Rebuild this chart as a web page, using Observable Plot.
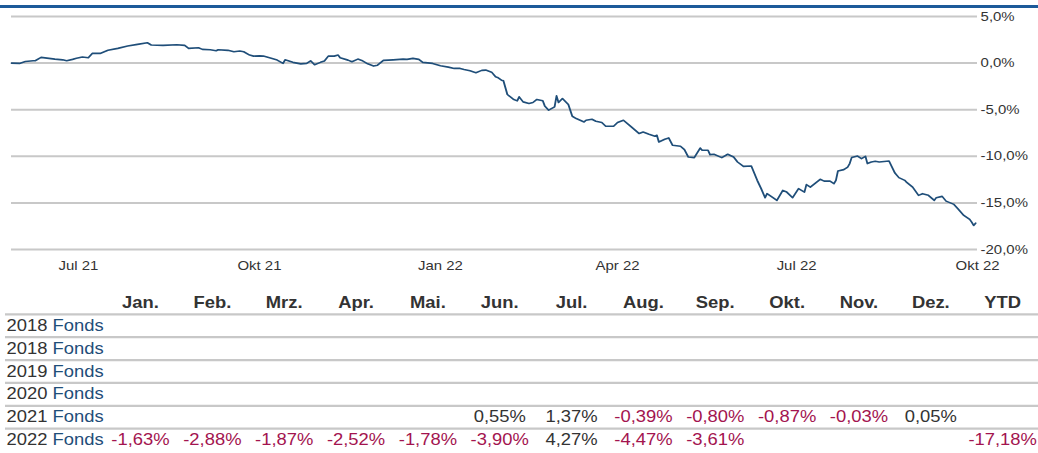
<!DOCTYPE html>
<html><head><meta charset="utf-8">
<script src="https://cdn.jsdelivr.net/npm/d3@7"></script>
<script src="https://cdn.jsdelivr.net/npm/@observablehq/plot@0.6"></script>
<style>
body{margin:0;background:#fff;width:1038px;height:453px;overflow:hidden;position:relative;font-family:"Liberation Sans",Arial,sans-serif;}
#bar{position:absolute;left:0;top:5px;width:1038px;height:3px;background:#1c5a99;}
#chart,#table{position:absolute;left:0;}
#chart{top:0}
#table{top:282px}
svg{display:block;overflow:visible}
</style></head><body>
<div id="chart"></div><div id="table"></div><div id="bar"></div>
<script>
// ---- performance line (cumulative %) ----
const perfDates = [
"2021-05-28","2021-06-01","2021-06-04","2021-06-08","2021-06-09","2021-06-12","2021-06-16","2021-06-19","2021-06-23","2021-06-25",
"2021-06-28","2021-06-30","2021-07-03","2021-07-06","2021-07-08","2021-07-12","2021-07-16","2021-07-21","2021-07-26","2021-07-31",
"2021-08-05","2021-08-07","2021-08-13","2021-08-20","2021-08-24","2021-08-26","2021-08-31","2021-09-02","2021-09-06","2021-09-09",
"2021-09-10","2021-09-15","2021-09-18","2021-09-21","2021-09-23","2021-09-26","2021-09-28","2021-10-01","2021-10-03","2021-10-07",
"2021-10-10","2021-10-13","2021-10-14","2021-10-18","2021-10-22","2021-10-25","2021-10-27","2021-10-29","2021-11-01","2021-11-03",
"2021-11-05","2021-11-08","2021-11-10","2021-11-11","2021-11-15","2021-11-17","2021-11-20","2021-11-22","2021-11-25","2021-11-28",
"2021-11-30","2021-12-03","2021-12-08","2021-12-13","2021-12-15","2021-12-18","2021-12-21","2021-12-23","2021-12-28","2022-01-01",
"2022-01-05","2022-01-08","2022-01-11","2022-01-13","2022-01-16","2022-01-19","2022-01-22","2022-01-24","2022-01-27","2022-01-29",
"2022-01-30","2022-02-01","2022-02-02","2022-02-04","2022-02-07","2022-02-09","2022-02-10","2022-02-12","2022-02-15","2022-02-17",
"2022-02-19","2022-02-22","2022-02-23","2022-02-25","2022-02-28","2022-03-01","2022-03-02","2022-03-04","2022-03-07","2022-03-09",
"2022-03-11","2022-03-15","2022-03-16","2022-03-19","2022-03-21","2022-03-24","2022-03-26","2022-03-30","2022-04-01","2022-04-04",
"2022-04-08","2022-04-12","2022-04-14","2022-04-17","2022-04-20","2022-04-21","2022-04-22","2022-04-25","2022-04-27","2022-04-29",
"2022-05-03","2022-05-05","2022-05-07","2022-05-10","2022-05-13","2022-05-14","2022-05-17","2022-05-18","2022-05-20","2022-05-24",
"2022-05-27","2022-05-30","2022-06-01","2022-06-04","2022-06-08","2022-06-11","2022-06-13","2022-06-15","2022-06-16","2022-06-19",
"2022-06-21","2022-06-24","2022-06-26","2022-06-29","2022-07-02","2022-07-05","2022-07-06","2022-07-08","2022-07-13","2022-07-15",
"2022-07-18","2022-07-20","2022-07-21","2022-07-22","2022-07-25","2022-07-27","2022-07-28","2022-07-29","2022-08-01","2022-08-03",
"2022-08-05","2022-08-06","2022-08-08","2022-08-10","2022-08-12","2022-08-17","2022-08-20","2022-08-22","2022-08-25","2022-08-26",
"2022-08-29","2022-09-01","2022-09-03","2022-09-06","2022-09-09","2022-09-10","2022-09-13","2022-09-15","2022-09-19","2022-09-21",
"2022-09-24","2022-09-27","2022-09-28","2022-09-29","2022-09-30"];
const perfValues = [
0.00,-0.03,0.18,0.25,0.25,0.61,0.51,0.43,0.35,0.25,
0.40,0.51,0.65,0.57,1.04,1.04,1.37,1.58,1.83,2.01,
2.18,1.94,1.90,1.97,1.90,1.58,1.65,1.47,1.43,1.32,
1.43,1.37,1.22,1.29,1.22,0.86,0.75,0.78,0.75,0.51,
0.32,-0.03,0.35,0.08,-0.08,-0.03,0.25,-0.18,0.08,0.22,
0.75,0.75,0.86,0.57,0.32,0.14,0.43,0.29,-0.08,-0.32,
-0.22,0.29,0.35,0.43,0.40,0.51,0.40,0.08,-0.03,-0.29,
-0.43,-0.57,-0.57,-0.68,-0.83,-1.04,-0.78,-0.75,-0.97,-1.47,
-1.54,-1.83,-1.90,-3.37,-3.87,-4.05,-3.62,-4.16,-4.33,-4.23,
-3.90,-4.05,-4.59,-5.05,-4.70,-3.52,-4.23,-3.80,-4.44,-5.70,
-5.95,-6.31,-6.13,-6.02,-6.24,-6.38,-6.77,-6.77,-6.38,-6.13,
-6.85,-7.56,-7.39,-7.63,-7.85,-7.74,-8.46,-8.17,-8.03,-8.82,
-8.92,-9.28,-10.08,-10.14,-9.11,-9.35,-9.35,-9.82,-9.78,-10.14,
-9.78,-10.08,-10.61,-11.08,-11.04,-12.58,-13.47,-14.44,-14.01,-14.44,
-14.73,-13.66,-13.84,-14.44,-13.47,-13.84,-13.04,-13.30,-12.47,-12.66,
-12.66,-12.94,-12.58,-11.58,-11.43,-11.15,-10.78,-10.14,-9.97,-10.25,
-10.00,-10.78,-10.61,-10.54,-10.61,-10.51,-11.80,-12.29,-12.58,-12.80,
-13.30,-14.19,-14.01,-14.19,-14.73,-14.44,-14.30,-14.81,-15.16,-15.62,
-16.34,-16.77,-17.06,-17.42,-17.18];

const xTickDates  = ["2021-07-01","2021-10-01","2022-01-01","2022-04-01","2022-07-01","2022-10-01"];
const xTickLabels = ["Jul 21","Okt 21","Jan 22","Apr 22","Jul 22","Okt 22"];
const yTicks = [5, 0, -5, -10, -15, -20];

// ---- monthly returns table ----
const months = ["Jan.","Feb.","Mrz.","Apr.","Mai.","Jun.","Jul.","Aug.","Sep.","Okt.","Nov.","Dez.","YTD"];
const rowYears = ["2018","2018","2019","2020","2021","2022"];
const rowSeries = ["Fonds","Fonds","Fonds","Fonds","Fonds","Fonds"];
const returns2021 = [null,null,null,null,null,0.55,1.37,-0.39,-0.80,-0.87,-0.03,0.05,null];
const returns2022 = [-1.63,-2.88,-1.87,-2.52,-1.78,-3.90,4.27,-4.47,-3.61,null,null,null,-17.18];
const rowReturns = [[],[],[],[],returns2021,returns2022];

// ---- styling ----
const S = 1.15;           // horizontal stretch of the original rendering
const W = 1038;
const FONT = '"Liberation Sans", Arial, sans-serif';
const GRAY = "#333333", NAVY = "#1f4e79", RED = "#a3144f", GRID = "#c8c8c8";

function stretch(svg, h) {
  svg.setAttribute("width", W);
  svg.setAttribute("height", h);
  svg.setAttribute("viewBox", `0 0 ${W / S} ${h}`);
  svg.setAttribute("preserveAspectRatio", "none");
  return svg;
}
const fmtPct1 = d => d.toFixed(1).replace(".", ",") + "%";
const fmtPct2 = d => d.toFixed(2).replace(".", ",") + "%";

// ---- chart ----
const perf = perfDates.map((d, i) => ({date: new Date(d), value: perfValues[i]}));
const tickDates = xTickDates.map(d => new Date(d));
const H1 = 282;
const chart = Plot.plot({
  width: W / S, height: H1,
  marginLeft: 11 / S, marginRight: 61 / S, marginTop: 16, marginBottom: 33,
  style: {fontFamily: FONT, fontSize: "13px", color: GRAY, background: "transparent", overflow: "visible"},
  x: {type: "utc", domain: [perf[0].date, tickDates[tickDates.length - 1]], label: null},
  y: {domain: [-20, 5], label: null},
  marks: [
    Plot.ruleY(yTicks, {stroke: GRID, strokeWidth: 2}),
    Plot.line(perf, {x: "date", y: "value", stroke: NAVY, strokeWidth: 1.6}),
    Plot.axisX(tickDates, {tickSize: 0, tickPadding: 11, fill: GRAY,
      tickFormat: d => xTickLabels[tickDates.findIndex(t => +t === +d)], label: null}),
    Plot.axisY(yTicks, {anchor: "right", tickSize: 0, tickPadding: 3 / S, fill: GRAY,
      tickFormat: fmtPct1, label: null})
  ]
});
document.getElementById("chart").append(stretch(chart, H1));

// ---- table ----
const H2 = 171;
const header = months.map((m, k) => ({col: k, row: 0, text: m}));
const labels = rowYears.map((y, i) => ({row: i + 1, year: y, series: rowSeries[i]}));
const cells = [];
rowReturns.forEach((vals, i) => vals.forEach((v, k) => {
  if (v != null) cells.push({col: k, row: i + 1, text: fmtPct2(v), neg: v < 0});
}));
const lineRows = d3.range(0, rowYears.length).map(r => r + 0.5);

const table = Plot.plot({
  width: W / S, height: H2,
  marginLeft: 104 / S, marginRight: 0, marginTop: 9, marginBottom: 2,
  style: {fontFamily: FONT, fontSize: "16px", color: GRAY, background: "transparent", overflow: "visible"},
  x: {domain: [-0.5, months.length - 0.5], axis: null},
  y: {domain: [rowYears.length + 0.5, -0.5], axis: null},
  marks: [
    Plot.ruleY(lineRows, {stroke: GRID, strokeWidth: 2.2, insetLeft: -99 / S}),
    Plot.text(header, {x: "col", y: "row", text: "text", fontWeight: "bold", fill: GRAY}),
    Plot.text(labels, {y: "row", text: "year", frameAnchor: "left", textAnchor: "start", dx: -98 / S, fill: GRAY}),
    Plot.text(labels, {y: "row", text: "series", frameAnchor: "left", textAnchor: "start", dx: -52 / S, fill: NAVY}),
    Plot.text(cells, {x: "col", y: "row", text: "text", fill: d => d.neg ? RED : GRAY})
  ]
});
document.getElementById("table").append(stretch(table, H2));
</script>
</body></html>
